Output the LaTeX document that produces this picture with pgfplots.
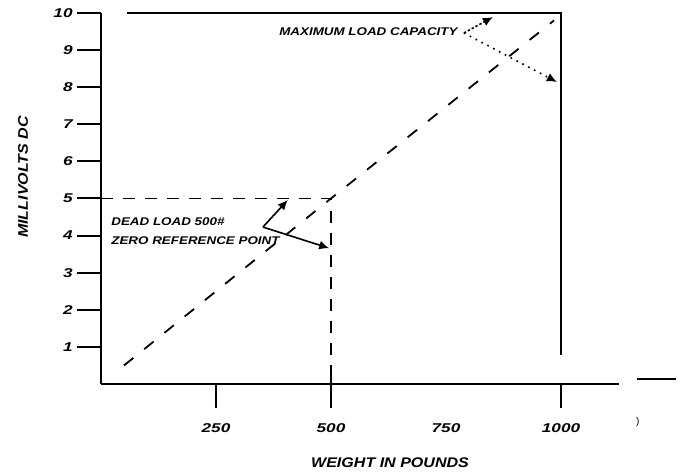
\documentclass[border=0pt]{standalone}
\usepackage{pgfplots}
\pgfplotsset{compat=1.18}
\usetikzlibrary{arrows.meta}
\usepackage{fontspec}
\setmainfont{Liberation Sans}
\newfontfamily\labfont[FakeStretch=1.15]{Liberation Sans}
\newfontfamily\digfont[FakeStretch=1.35]{Liberation Sans}
\newfontfamily\annfont[FakeStretch=1.2]{Liberation Sans}
\begin{document}
\begin{tikzpicture}
\begin{axis}[
  x=0.23bp, y=18.55bp,
  xmin=0, xmax=1126, ymin=0, ymax=10,
  axis x line*=bottom, axis y line*=left,
  axis line style={line width=1bp, black},
  clip=false,
  xtick={250,500,750,1000},
  xticklabels={250,500,750,1000},
  ytick={1,2,3,4,5,6,7,8,9,10},
  yticklabels={1,2,3,4,5,6,7,8,9,10},
  major tick length=0pt,
  tick style={draw=none},
  xticklabel style={anchor=center, inner sep=0pt, yshift=-22bp, font=\digfont\bfseries\itshape\fontsize{6.4}{7}\selectfont},
  yticklabel style={anchor=east, inner sep=0pt, xshift=-14bp, font=\digfont\bfseries\itshape\fontsize{6.4}{7}\selectfont},
]
% y tick marks
\addplot[black, line width=1bp] coordinates {(-52,1) (0,1)};
\addplot[black, line width=1bp] coordinates {(-52,2) (0,2)};
\addplot[black, line width=1bp] coordinates {(-52,3) (0,3)};
\addplot[black, line width=1bp] coordinates {(-52,4) (0,4)};
\addplot[black, line width=1bp] coordinates {(-52,5) (0,5)};
\addplot[black, line width=1bp] coordinates {(-52,6) (0,6)};
\addplot[black, line width=1bp] coordinates {(-52,7) (0,7)};
\addplot[black, line width=1bp] coordinates {(-52,8) (0,8)};
\addplot[black, line width=1bp] coordinates {(-52,9) (0,9)};
\addplot[black, line width=1bp] coordinates {(-52,10) (0,10)};
% x tick marks
\addplot[black, line width=1bp] coordinates {(250,0) (250,-0.65)};
\addplot[black, line width=1bp] coordinates {(500,0.5) (500,-0.65)};
\addplot[black, line width=1bp] coordinates {(1000,0) (1000,-0.65)};
% dead load reference lines
\addplot[black, line width=0.9bp, dash pattern=on 6bp off 5bp] coordinates {(0,5) (500,5) (500,0.5)};
% calibration line
\addplot[black, line width=0.9bp, dash pattern=on 6bp off 7bp] coordinates {(50,0.5) (500,5.0) (985,9.8)};
% maximum load frame
\addplot[black, line width=1bp] coordinates {(57,10) (1000,10) (1000,0.78)};
% right stub
\addplot[black, line width=1bp] coordinates {(1165,0.135) (1250,0.135)};
% arrows
\addplot[black, line width=0.8bp, -{Latex[length=5bp,width=4.5bp]}] coordinates {(352,4.23) (406,4.96)};
\addplot[black, line width=0.8bp, -{Latex[length=5bp,width=4.5bp]}] coordinates {(352,4.23) (496,3.66)};
\addplot[black, line width=0.8bp, dash pattern=on 1.2bp off 1bp, -{Latex[length=5bp,width=4.5bp]}] coordinates {(789,9.46) (852,9.89)};
\addplot[black, line width=0.8bp, dash pattern=on 0.8bp off 2.5bp, -{Latex[length=5bp,width=4.5bp]}] coordinates {(789,9.46) (991,8.14)};
% texts
\node[anchor=east, inner sep=0pt, font=\annfont\bfseries\itshape\fontsize{5.6}{6}\selectfont] at (axis cs:776,9.49) {MAXIMUM LOAD CAPACITY};
\node[anchor=west, inner sep=0pt, font=\annfont\bfseries\itshape\fontsize{5.6}{6}\selectfont] at (axis cs:21.7,4.37) {DEAD LOAD 500\#};
\node[anchor=west, inner sep=0pt, font=\annfont\bfseries\itshape\fontsize{5.6}{6}\selectfont] at (axis cs:21.7,3.85) {ZERO REFERENCE POINT};
\node[rotate=90, inner sep=0pt, font=\labfont\bfseries\itshape\fontsize{7}{8}\selectfont] at (axis cs:-169.6,5.58) {MILLIVOLTS DC};
\node[inner sep=0pt, font=\labfont\bfseries\itshape\fontsize{7}{8}\selectfont] at (axis cs:628.3,-2.13) {WEIGHT IN POUNDS};
\node[inner sep=0pt, font=\fontsize{5}{6}\selectfont] at (axis cs:1167,-1.02) {)};
% page extent
\path (axis cs:-219.57,-2.372) rectangle (axis cs:1260.87,10.35);
\end{axis}
\end{tikzpicture}
\end{document}
